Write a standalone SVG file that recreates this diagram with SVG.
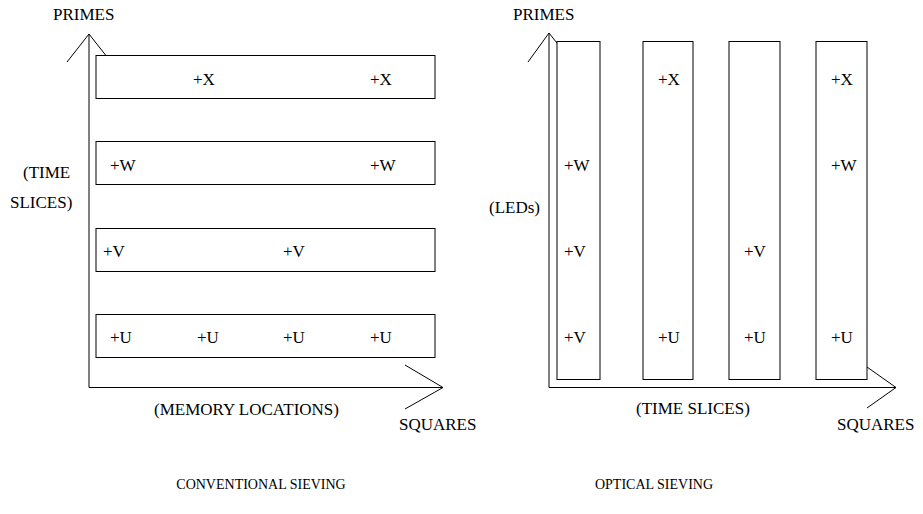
<svg xmlns="http://www.w3.org/2000/svg" width="923" height="514" viewBox="0 0 923 514">
<style>
text{font-family:'Liberation Serif','Times New Roman','DejaVu Serif',serif;font-size:17px;fill:#000}
.ax{stroke:#000;stroke-width:1;fill:none}
.bx{stroke:#000;stroke-width:1;fill:#fff}
.mid{text-anchor:middle}
.cap{font-size:14px}
</style>
<rect x="0" y="0" width="923" height="514" fill="#fff"/>
<g id="connectors">
<line class="ax" x1="89" y1="34" x2="89" y2="387.5"/>
<line class="ax" x1="89" y1="387.5" x2="443" y2="387.5"/>
<polyline class="ax" points="67,62 89,34 111,62"/>
<polyline class="ax" points="405,365 443,387.5 405,409"/>
<line class="ax" x1="549" y1="33" x2="549" y2="387.5"/>
<line class="ax" x1="549" y1="387.5" x2="896" y2="387.5"/>
<polyline class="ax" points="528,62 549,33 572,62"/>
<polyline class="ax" points="867,367 896,387.5 867,408"/>
</g>
<g id="conventional" font-family="Liberation Serif, Times New Roman, serif">
<text x="53" y="20">PRIMES</text>
<text x="23" y="178">(TIME</text>
<text x="10" y="208">SLICES)</text>
<g id="rowX"><rect class="bx" x="96" y="55.5" width="339" height="43"/><text x="193" y="85">+X</text><text x="370" y="85">+X</text></g>
<g id="rowW"><rect class="bx" x="96" y="141.5" width="339" height="43"/><text x="110" y="171">+W</text><text x="370" y="171">+W</text></g>
<g id="rowV"><rect class="bx" x="96" y="228.5" width="339" height="43"/><text x="103" y="257">+V</text><text x="283" y="257">+V</text></g>
<g id="rowU"><rect class="bx" x="96" y="314.5" width="339" height="43"/><text x="110" y="343">+U</text><text x="197" y="343">+U</text><text x="283" y="343">+U</text><text x="370" y="343">+U</text></g>
<text x="154" y="415">(MEMORY LOCATIONS)</text>
<text x="399" y="430">SQUARES</text>
<text class="mid cap" x="261" y="489">CONVENTIONAL SIEVING</text>
</g>
<g id="optical" font-family="Liberation Serif, Times New Roman, serif">
<text x="513" y="20">PRIMES</text>
<text x="489" y="213">(LEDs)</text>
<g id="col1"><rect class="bx" x="557" y="41.5" width="43" height="338"/><text x="564" y="171">+W</text><text x="564" y="257">+V</text><text x="564" y="343">+V</text></g>
<g id="col2"><rect class="bx" x="643" y="41.5" width="50" height="338"/><text x="658" y="85">+X</text><text x="658" y="343">+U</text></g>
<g id="col3"><rect class="bx" x="729" y="41.5" width="51" height="338"/><text x="744" y="257">+V</text><text x="744" y="343">+U</text></g>
<g id="col4"><rect class="bx" x="816" y="41.5" width="51" height="338"/><text x="831" y="85">+X</text><text x="831" y="171">+W</text><text x="831" y="343">+U</text></g>
<text x="636" y="414">(TIME SLICES)</text>
<text x="837" y="430">SQUARES</text>
<text class="mid cap" x="654" y="489">OPTICAL SIEVING</text>
</g>
</svg>
